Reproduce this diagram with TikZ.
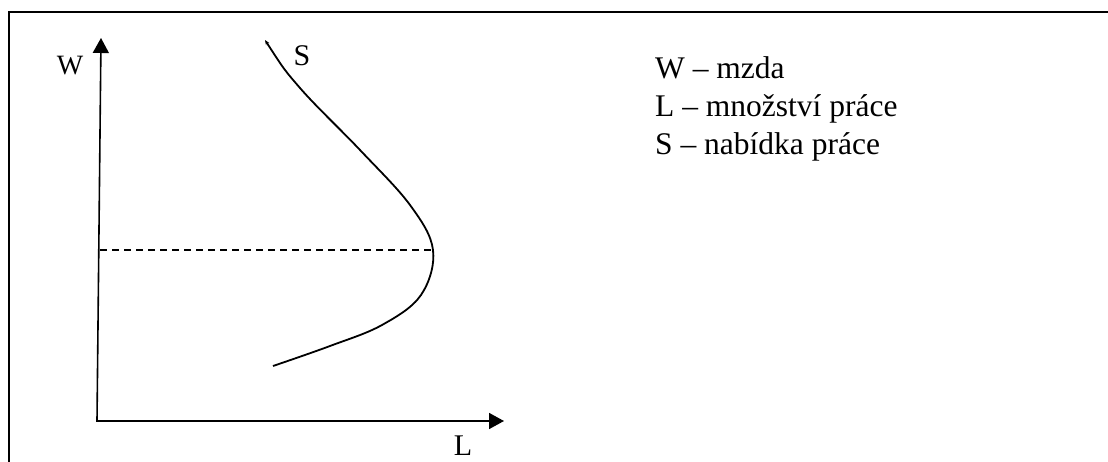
\documentclass[tikz,border=0pt]{standalone}
\usepackage{fontspec}
\setmainfont{Liberation Serif}
\usetikzlibrary{arrows.meta,calc}
\begin{document}
\begin{tikzpicture}[x=1pt,y=-1pt,
  axis/.style={line width=1.6pt,-{Triangle[length=15pt,width=16pt]}},
  lbl/.style={inner sep=0pt,font=\fontsize{30}{34}\selectfont},
  legend/.style={inner sep=0pt,anchor=base west,font=\fontsize{31.5}{36}\selectfont}]
\useasboundingbox (0,0) rectangle (1108,462);
\draw[line width=2pt] (9,462) -- (9,12) -- (1108,12);
\coordinate (O) at (97,421);
\coordinate (Wtop) at (101,38);
\coordinate (Lend) at (504,421);
\draw[axis] (O) -- (Wtop);
\draw[axis] ($(O)+(-1,0)$) -- (Lend);
\node[lbl,font=\fontsize{28}{32}\selectfont] (W) at (70,66) {W};
\node[lbl] (L) at (463,446) {L};
\node[lbl] (S) at (302,56) {S};
\coordinate (V) at (433,250);
\coordinate (Y) at (100,250);
\draw[line width=1.2pt,dash pattern=on 7pt off 5pt] (Y) -- (V);
\draw[line width=1.8pt,{Stealth[length=5pt,width=4pt]}-] plot[smooth,tension=0.6] coordinates {(265,40) (300,88) (360,150) (410,205) (433,250) (421,295) (382,325) (330,346) (273,366)};
\node[legend] (l1) at (655,79) {W – mzda};
\node[legend] (l2) at (655,117) {L – množství práce};
\node[legend] (l3) at (655,155) {S – nabídka práce};
\end{tikzpicture}
\end{document}
